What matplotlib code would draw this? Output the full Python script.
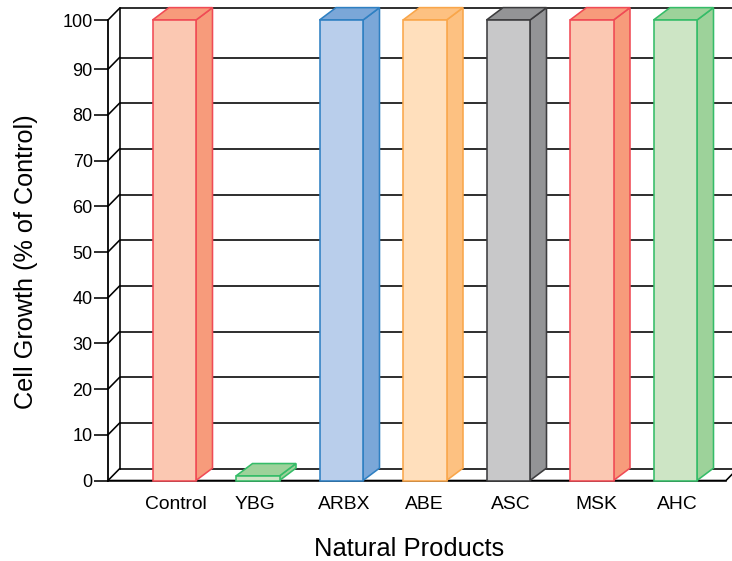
import matplotlib
matplotlib.use('Agg')
import matplotlib.pyplot as plt
from matplotlib.patches import Polygon
from matplotlib.transforms import Affine2D
import numpy as np

categories = ['Control', 'YBG', 'ARBX', 'ABE', 'ASC', 'MSK', 'AHC']
growth = [100, 1, 100, 100, 100, 100, 100]
y_ticks = [0, 10, 20, 30, 40, 50, 60, 70, 80, 90, 100]
front_colors = ['#FBC8B2', '#CDE5C5', '#B9CEEB', '#FFDFBC', '#C8C8C9', '#FBC8B2', '#CDE5C5']
side_colors = ['#F79B7B', '#9DD29A', '#7BA7D8', '#FDC181', '#939496', '#F79B7B', '#9DD29A']
edge_colors = ['#F04B55', '#35BC68', '#2F80C2', '#F9A64A', '#3C3C3E', '#F04B55', '#35BC68']

W, H = 732, 561
plt.rcParams['font.family'] = ['Liberation Sans', 'DejaVu Sans']

fig = plt.figure(figsize=(W / 100, H / 100), dpi=100)
# axes box follows the front plane of the 3D chart
left, right, top, bottom = 108, 732, 0, 480.5
ax = fig.add_axes([left / W, 1 - bottom / H, (right - left) / W, (bottom - top) / H])

# the original axis is slightly stretched between 90 and 100
knots = [0, 90, 100, 110]
knot_px = [0, 411.3, 460.5, 509.7]
ax.set_yscale('function', functions=(lambda v: np.interp(v, knots, knot_px),
                                     lambda p: np.interp(p, knot_px, knots)))
ax.set_ylim(0, 104.07)
px_x = 83.5   # pixels per category
ax.set_xlim((left - 174.25) / px_x, (right - 174.25) / px_x)
x0, x1 = ax.get_xlim()


def shift(x, v, dx, dy):
    # point moved back in depth by a pixel offset
    p = ax.transData.transform((x, v))
    return tuple(ax.transData.inverted().transform((p[0] + dx, p[1] + dy)))


wall = (11.5, 11.7)
depth = (16.5, 12.4)
bar_w = 43.5 / px_x
lw_ax = 1.15
lw_bar = 1.15

# back wall, floor and slanted tick links
for v in y_ticks:
    bx, by = shift(x0, v, *wall)
    ax.plot([bx, x1], [by, by], color='black', lw=lw_ax, zorder=1, clip_on=False, solid_capstyle='butt')
    ax.plot([x0, bx], [v, by], color='black', lw=lw_ax, zorder=1, clip_on=False)
ax.plot([shift(x0, 0, *wall)[0]] * 2, [shift(x0, 0, *wall)[1], shift(x0, 100, *wall)[1]],
        color='black', lw=lw_ax, zorder=1, clip_on=False)
ax.plot([x0, x0], [0, 100], color='black', lw=1.3, zorder=2, clip_on=False)
floor_end = x1 - 6 / px_x
ax.plot([x0, floor_end, shift(floor_end, 0, *wall)[0]], [0, 0, shift(floor_end, 0, *wall)[1]],
        color='black', lw=lw_ax, zorder=2, clip_on=True)
ax.plot([x0, floor_end], [0, 0], color='black', lw=lw_ax, zorder=2, clip_on=False)

for i, v in enumerate(growth):
    l, r = i - bar_w / 2, i + bar_w / 2
    ec = edge_colors[i]
    ax.add_patch(Polygon([(r, 0), shift(r, 0, *depth), shift(r, v, *depth), (r, v)],
                         fc=side_colors[i], ec=ec, lw=lw_bar, zorder=3, clip_on=False))
    ax.add_patch(Polygon([(l, v), shift(l, v, *depth), shift(r, v, *depth), (r, v)],
                         fc=side_colors[i], ec=ec, lw=lw_bar, zorder=3, clip_on=False))
    ax.add_patch(Polygon([(l, 0), (r, 0), (r, v), (l, v)],
                         fc=front_colors[i], ec=ec, lw=lw_bar, zorder=4, clip_on=False))

for s in ax.spines.values():
    s.set_visible(False)
ax.patch.set_visible(False)

ax.set_yticks(y_ticks)
ax.set_yticklabels([str(v) for v in y_ticks], fontsize=13)
ax.minorticks_off()
ax.tick_params(axis='y', length=10, width=lw_ax, pad=1)
ax.set_xticks(range(len(categories)))
ax.set_xticklabels(categories, fontsize=13.9)
ax.tick_params(axis='x', length=0, pad=11.5)

# labels in the original are not quite centred under the bars
for lab, off in zip(ax.get_xticklabels(), [1.5, -3, 3, 0, 2.5, 4.5, 2]):
    lab.set_transform(lab.get_transform() + Affine2D().translate(off, 0))

fig.text(409.5 / W, 1 - 549 / H, 'Natural Products', ha='center', va='center', fontsize=18.4)
fig.text(26 / W, 1 - 262 / H, 'Cell Growth (% of Control)', ha='center', va='center', rotation=90, fontsize=18.2)

fig.savefig('out.png', dpi=100)
